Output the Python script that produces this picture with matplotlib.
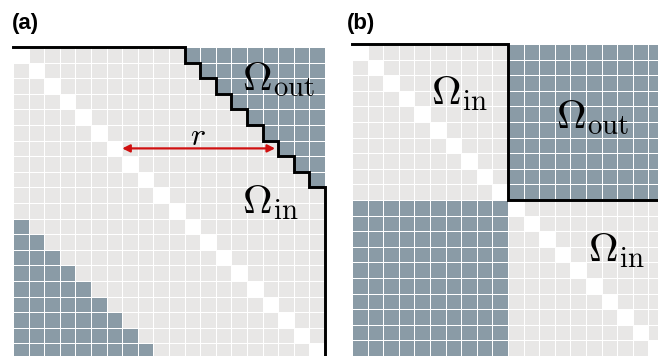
import numpy as np
import matplotlib
matplotlib.use("Agg")
import matplotlib.pyplot as plt
from matplotlib.colors import ListedColormap

plt.rcParams["mathtext.fontset"] = "cm"

# ── data ──────────────────────────────────────────────────────────────────────
N_CELLS  = 20        # matrix size in both panels
BAND_A   = 10        # panel (a): Ω_in is |i - j| <= BAND_A
BLOCK_B  = 10        # panel (b): two diagonal blocks of this size
R_ROW    = 6         # row that carries the r arrow in (a)

CELL_COLORS = ["#ffffff", "#e8e7e6", "#8a9ba6"]   # diagonal, Ω_in, Ω_out

W, H = 658, 356
CELL_PX = 15.6
OMEGA_FS = 29.5


def matrix_a():
    i, j = np.indices((N_CELLS, N_CELLS))
    m = np.ones((N_CELLS, N_CELLS))
    m[np.abs(i - j) > BAND_A] = 2
    m[i == j] = 0
    return m


def matrix_b():
    i, j = np.indices((N_CELLS, N_CELLS))
    m = np.ones((N_CELLS, N_CELLS))
    m[(i // BLOCK_B) != (j // BLOCK_B)] = 2
    m[i == j] = 0
    return m


def path_a():
    xs, ys = [0], [0]
    for i in range(N_CELLS):
        c = i + BAND_A + 1
        if c < N_CELLS:
            xs += [c, c]
            ys += [i, i + 1]
        else:
            xs += [N_CELLS, N_CELLS]
            ys += [i, N_CELLS]
            break
    return xs, ys


def path_b():
    return [0, BLOCK_B, BLOCK_B, N_CELLS], [0, 0, BLOCK_B, BLOCK_B]


def add_panel(fig, left_px, top_px):
    size = N_CELLS * CELL_PX
    ax = fig.add_axes([left_px / W, 1 - (top_px + size) / H, size / W, size / H])
    ax.set_xlim(0, N_CELLS)
    ax.set_ylim(N_CELLS, 0)
    ax.axis("off")
    return ax


def draw_cells(ax, mat):
    edges = np.arange(N_CELLS + 1)
    ax.pcolormesh(edges, edges, mat, cmap=ListedColormap(CELL_COLORS),
                  vmin=-0.5, vmax=2.5, edgecolors="white", linewidth=0.7)


fig = plt.figure(figsize=(W / 100, H / 100), dpi=100)

# ── panel (a) ─────────────────────────────────────────────────────────────────
ax = add_panel(fig, 13, 47)
draw_cells(ax, matrix_a())
xs, ys = path_a()
ax.plot(xs, ys, color="black", lw=2.1, clip_on=False, solid_joinstyle="miter",
        solid_capstyle="projecting", zorder=5)
ax.annotate("", xy=(R_ROW + 1, R_ROW + 0.5), xytext=(R_ROW + BAND_A + 0.8, R_ROW + 0.5),
            arrowprops=dict(arrowstyle="<|-|>", color="#d01010", lw=1.6,
                            mutation_scale=11, shrinkA=0, shrinkB=0))
ax.text(11.86, 6.28, r"$r$", fontsize=23, ha="center", va="baseline")
ax.text(14.7, 2.76, r"$\Omega_{\mathrm{out}}$", fontsize=OMEGA_FS, ha="left", va="baseline")
ax.text(14.65, 10.64, r"$\Omega_{\mathrm{in}}$", fontsize=OMEGA_FS, ha="left", va="baseline")

# ── panel (b) ─────────────────────────────────────────────────────────────────
ax = add_panel(fig, 352, 44)
draw_cells(ax, matrix_b())
xs, ys = path_b()
ax.plot(xs, ys, color="black", lw=2.1, clip_on=False, solid_joinstyle="miter",
        solid_capstyle="projecting", zorder=5)
ax.text(5.08, 3.85, r"$\Omega_{\mathrm{in}}$", fontsize=OMEGA_FS, ha="left", va="baseline")
ax.text(13.05, 5.38, r"$\Omega_{\mathrm{out}}$", fontsize=OMEGA_FS, ha="left", va="baseline")
ax.text(15.1, 13.9, r"$\Omega_{\mathrm{in}}$", fontsize=OMEGA_FS, ha="left", va="baseline")

# panel letters
for x_px, lab in [(12, "(a)"), (347, "(b)")]:
    fig.text(x_px / W, 1 - 29 / H, lab, fontsize=16, fontweight="bold",
             family="Liberation Sans", ha="left", va="baseline")

fig.savefig("out.png", dpi=100)
